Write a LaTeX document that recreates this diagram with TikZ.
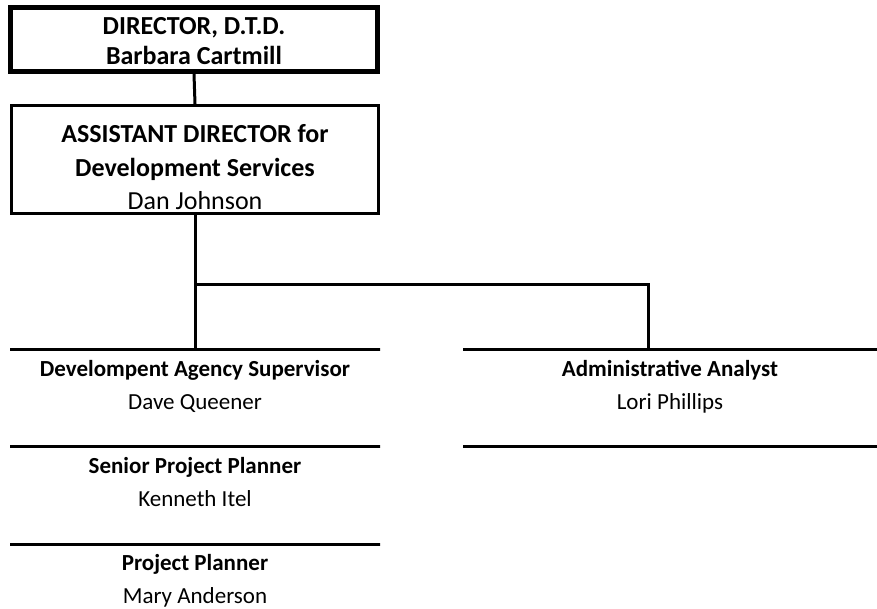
\documentclass[tikz,border=0pt]{standalone}
\usepackage{fontspec}
\setmainfont{Carlito}
\usetikzlibrary{positioning,calc}

\begin{document}
\begin{tikzpicture}[x=1pt, y=-1pt, line width=3pt,
  txt/.style={align=center, inner sep=0pt, font=\fontsize{23}{33}\selectfont},
  boxtxt/.style={align=center, inner sep=0pt, font=\fontsize{26}{33.5}\selectfont},
  rule/.style={draw, inner sep=0pt, outer sep=0pt, minimum height=0pt}
]
\useasboundingbox (0,0) rectangle (877,608);

% boxes at the top of the chart
\node[draw, line width=5pt, minimum width=367pt, minimum height=64pt, inner sep=0pt] (dir) at (194,39.5) {};
\node[boxtxt, font=\fontsize{26}{30}\selectfont\bfseries] (dirtxt) at ([yshift=-2pt]dir.center) {DIRECTOR, D.T.D.\\Barbara Cartmill};
\node[draw, minimum width=367pt, minimum height=108pt, inner sep=0pt] (asst) at (195,159.5) {};
\node[boxtxt] (assttxt) at ([yshift=-8pt]asst.center) {\textbf{ASSISTANT DIRECTOR for}\\\textbf{Development Services}\\Dan Johnson};

% rules over and under each position
\node[rule, minimum width=370pt] (sup) at (195,349.5) {};
\node[rule, minimum width=370pt] (spp) at (195,446.5) {};
\node[rule, minimum width=370pt] (pp) at (195,544) {};
\node[rule, minimum width=414pt] (ana) at (670,349.5) {};
\node[rule, minimum width=414pt] (anabot) at (670,446.5) {};

% positions
\node[txt, below=9pt of sup] (suptxt) {\textbf{Develompent Agency Supervisor}\\Dave Queener};
\node[txt, below=9pt of spp] (spptxt) {\textbf{Senior Project Planner}\\Kenneth Itel};
\node[txt, below=9pt of pp] (pptxt) {\textbf{Project Planner}\\Mary Anderson};
\node[txt, below=9pt of ana] (anatxt) {\textbf{Administrative Analyst}\\Lori Phillips};

% connectors
\coordinate (fork) at ($(asst.south)+(0,69)$);
\draw (dir.south) -- (asst.north);
\draw (asst.south) -- (sup.north);
\draw (fork) -| ([xshift=-22pt]ana.north);
\end{tikzpicture}
\end{document}
